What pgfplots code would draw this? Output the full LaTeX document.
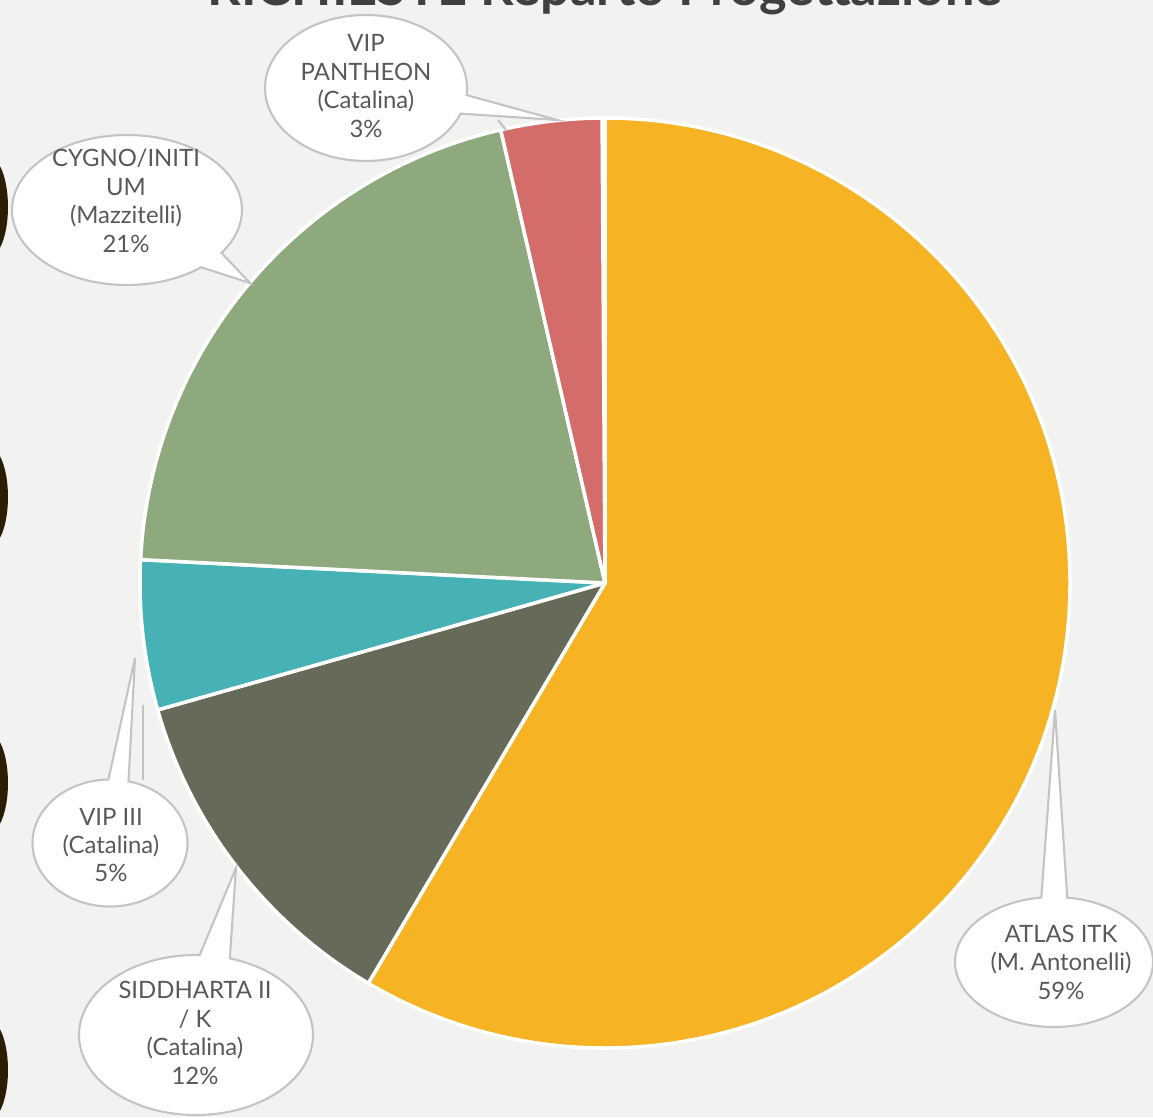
\documentclass[border=0pt]{standalone}
\usepackage{pgfplots}
\pgfplotsset{compat=1.18}
\usepackage{pgfplotstable}
\usepackage{fontspec}
\setmainfont{Lato}
\usetikzlibrary{shapes.callouts,shapes.geometric}

\definecolor{bg}{HTML}{F2F2F0}
\definecolor{cAtlas}{HTML}{F6B324}
\definecolor{cSidd}{HTML}{666B59}
\definecolor{cVip}{HTML}{47B2B5}
\definecolor{cCygno}{HTML}{8EA97D}
\definecolor{cPanth}{HTML}{D46D6A}
\definecolor{txt}{HTML}{595959}
\definecolor{ttl}{HTML}{404040}
\definecolor{rim}{HTML}{C4C4C4}
\definecolor{deco}{HTML}{2A1D04}

% share of each request, clockwise from the top
\pgfplotstableread{
name value color
ATLAS 58.5 cAtlas
SIDD 12.1 cSidd
VIPIII 5.2 cVip
CYGNO 20.6 cCygno
PANTH 3.5 cPanth
}\slices

\begin{document}
\begin{tikzpicture}
\useasboundingbox (0,0) rectangle (11.53cm,11.17cm);
\clip (0,0) rectangle (11.53cm,11.17cm);
\fill[bg] (0,0) rectangle (11.53cm,11.17cm);
% decorative shapes cut by the left edge
\foreach \yy in {9.10,6.20,3.34,0.47}
  \fill[deco] (-0.11cm,\yy cm) ellipse [x radius=0.19cm, y radius=0.50cm];

% angles of the slices
\xdef\cumangle{90}
\pgfplotsforeachungrouped \i in {0,...,4}{%
  \pgfplotstablegetelem{\i}{value}\of\slices \let\v\pgfplotsretval
  \pgfplotstablegetelem{\i}{color}\of\slices \let\c\pgfplotsretval
  \pgfmathsetmacro\endangle{\cumangle-3.6*\v}%
  \expandafter\xdef\csname sA\i\endcsname{\cumangle}%
  \expandafter\xdef\csname sB\i\endcsname{\endangle}%
  \expandafter\xdef\csname sC\i\endcsname{\c}%
  \xdef\cumangle{\endangle}%
}

\begin{axis}[
    at={(0,0)}, anchor=south west,
    scale only axis,
    width=11.53cm, height=11.17cm,
    xmin=0, xmax=1153, ymin=0, ymax=1117,
    hide axis, clip=false,
  ]
  \pgfplotsforeachungrouped \i in {0,...,4}{%
    \edef\temp{\noexpand\fill[\csname sC\i\endcsname, draw=white, line width=1pt, line join=round]
      (axis cs:605,534) -- ++(\csname sA\i\endcsname:4.65cm)
      arc[start angle=\csname sA\i\endcsname, end angle=\csname sB\i\endcsname, radius=4.65cm] -- cycle;}%
    \temp
  }

  % leader lines
  \draw[rim, line width=0.6pt] (axis cs:498,997) -- (axis cs:506,987);
  \draw[rim, line width=0.6pt] (axis cs:143,412) -- (axis cs:143,337);

  % callouts
  \tikzset{bub/.style={ellipse callout, draw=rim, fill=white, line width=0.6pt, inner sep=0pt}}
  \node[bub, minimum width=2.02cm, minimum height=1.46cm,
    callout absolute pointer={(axis cs:557,997)}] at (axis cs:366,1029) {};
  \node[bub, minimum width=2.30cm, minimum height=1.50cm,
    callout absolute pointer={(axis cs:250,834)}] at (axis cs:127,907) {};
  \node[bub, minimum width=1.55cm, minimum height=1.27cm,
    callout absolute pointer={(axis cs:135,459)}] at (axis cs:110,274) {};
  \node[bub, minimum width=2.34cm, minimum height=1.60cm,
    callout absolute pointer={(axis cs:236,249)}] at (axis cs:196,82) {};
  \node[bub, minimum width=1.98cm, minimum height=1.30cm,
    callout absolute pointer={(axis cs:1055,407)}] at (axis cs:1054,155) {};

  \tikzset{lbl/.style={text=txt, align=center, inner sep=0pt,
    font=\fontsize{6.8}{8.1}\selectfont}}
  \node[lbl] at (axis cs:366,1031) {VIP\\PANTHEON\\(Catalina)\\3\%};
  \node[lbl] at (axis cs:126,916) {CYGNO/INITI\\UM\\(Mazzitelli)\\21\%};
  \node[lbl] at (axis cs:111,272) {VIP III\\(Catalina)\\5\%};
  \node[lbl] at (axis cs:195,84) {SIDDHARTA II\\/ K\\(Catalina)\\12\%};
  \node[lbl] at (axis cs:1061,155) {ATLAS ITK\\(M. Antonelli)\\59\%};

  % title, cut by the top edge as in the source
  \node[anchor=base, text=ttl, inner sep=0pt, font=\fontsize{14.9}{17}\selectfont\bfseries]
    at (axis cs:605,1111) {RICHIESTE Reparto Progettazione};
\end{axis}
\end{tikzpicture}
\end{document}
